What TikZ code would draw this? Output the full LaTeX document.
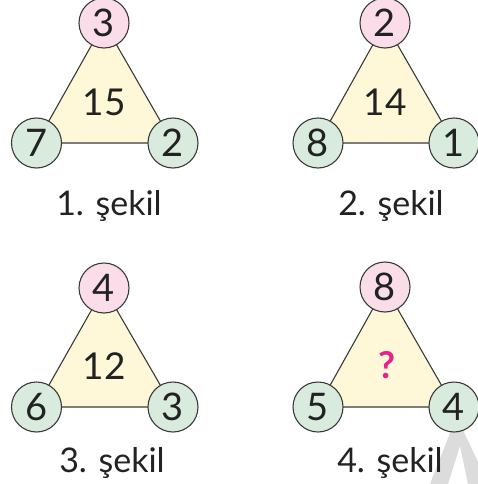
\documentclass[tikz,border=0pt]{standalone}
\usepackage{fontspec}
\setmainfont{Lato}
\definecolor{pinkc}{HTML}{FADDE9}
\definecolor{greenc}{HTML}{D8EBDC}
\definecolor{yellowc}{HTML}{FEF8D8}
\definecolor{linec}{HTML}{3A3A3A}
\definecolor{textc}{HTML}{222222}
\definecolor{qc}{HTML}{E6208C}
\definecolor{markc}{HTML}{DCDCDC}
\tikzset{
  tri/.style={fill=yellowc, draw=linec, line width=1.1pt, line join=round},
  topball/.style={circle, minimum size=50pt, inner sep=0pt, fill=pinkc, draw=linec, line width=1.1pt, text=textc, font=\fontsize{38}{38}\selectfont},
  sideball/.style={circle, minimum size=50pt, inner sep=0pt, fill=greenc, draw=linec, line width=1.1pt, text=textc, font=\fontsize{38}{38}\selectfont},
  sumlabel/.style={text=textc, inner sep=0pt, font=\fontsize{37}{37}\selectfont},
  caption/.style={text=textc, inner sep=0pt, anchor=base, font=\fontsize{34}{34}\selectfont},
}
\begin{document}
\begin{tikzpicture}[x=1pt,y=-1pt]
\useasboundingbox (0,0) rectangle (478,484);
% watermark fragment
\fill[markc] (430,484) -- (452,428) -- (462,428) -- (478,462) -- (478,484) -- (468,484) -- (460,446) -- (448,484) -- cycle;
% figure 1
\coordinate (t1) at (104,23); \coordinate (l1) at (36.5,143); \coordinate (r1) at (173,143);
\draw[tri] (t1) -- (l1) -- (r1) -- cycle;
\node[topball] (a1) at (t1) {3};
\node[sideball] (b1) at (l1) {7};
\node[sideball] (c1) at (r1) {2};
\node[sumlabel] (s1) at (104,102) {15};
\node[caption] (k1) at (109,215) {1. şekil};
% figure 2
\coordinate (t2) at (385,23); \coordinate (l2) at (318,143); \coordinate (r2) at (454,143);
\draw[tri] (t2) -- (l2) -- (r2) -- cycle;
\node[topball] (a2) at (t2) {2};
\node[sideball] (b2) at (l2) {8};
\node[sideball] (c2) at (r2) {1};
\node[sumlabel] (s2) at (385,102) {14};
\node[caption] (k2) at (391,215) {2. şekil};
% figure 3
\coordinate (t3) at (104,288); \coordinate (l3) at (36.5,407); \coordinate (r3) at (173,407);
\draw[tri] (t3) -- (l3) -- (r3) -- cycle;
\node[topball] (a3) at (t3) {4};
\node[sideball] (b3) at (l3) {6};
\node[sideball] (c3) at (r3) {3};
\node[sumlabel] (s3) at (104,366) {12};
\node[caption] (k3) at (112,472) {3. şekil};
% figure 4
\coordinate (t4) at (385,287); \coordinate (l4) at (318,407); \coordinate (r4) at (454,407);
\draw[tri] (t4) -- (l4) -- (r4) -- cycle;
\node[topball] (a4) at (t4) {8};
\node[sideball] (b4) at (l4) {5};
\node[sideball] (c4) at (r4) {4};
\node[sumlabel, text=qc, font=\fontsize{37}{37}\selectfont\bfseries] (s4) at (387,365) {?};
\node[caption] (k4) at (390,472) {4. şekil};
\end{tikzpicture}
\end{document}
